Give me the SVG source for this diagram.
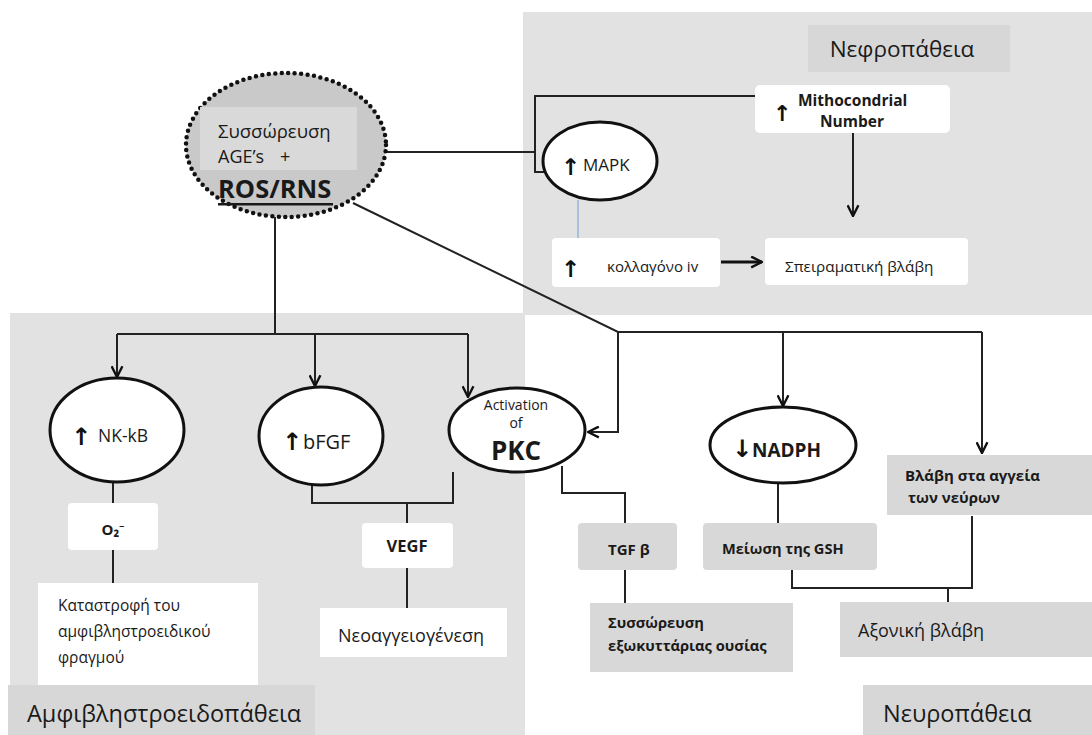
<svg xmlns="http://www.w3.org/2000/svg" width="1092" height="735" viewBox="0 0 1092 735">
<style>
.t{font-family:"Open Sans","Noto Sans","DejaVu Sans",sans-serif;fill:#1a1a1a}
.b{font-weight:bold}
.ar{font-family:"DejaVu Sans",sans-serif;fill:#111;font-weight:bold}
.ov{fill:#fff;stroke:#111;stroke-width:3}
.wb{fill:#fff}
.gb{fill:#d8d8d8}
.c{fill:none;stroke:#222;stroke-width:2}
</style>
<defs>
<marker id="ah" viewBox="0 0 12 12" refX="11" refY="6" markerWidth="13" markerHeight="13" markerUnits="userSpaceOnUse" orient="auto">
<path d="M1,1 L11,6 L1,11" fill="none" stroke="#111" stroke-width="2.2"/>
</marker>
</defs>
<rect width="1092" height="735" fill="#fff"/>
<rect x="523" y="12" width="569" height="303" fill="#e2e2e2"/>
<rect x="10" y="313" width="515" height="422" fill="#e2e2e2"/>
<g id="label-nefro"><rect x="808" y="25" width="202" height="47" fill="#d7d7d7"/><text class="t" x="902" y="57" font-size="22.5" text-anchor="middle">Νεφροπάθεια</text></g>
<g id="label-amfi"><rect x="8" y="685" width="307" height="50" fill="#d7d7d7"/><text class="t" x="27" y="722" font-size="23.5">Αμφιβληστροειδοπάθεια</text></g>
<g id="label-neuro"><rect x="863" y="685" width="229" height="50" fill="#d7d7d7"/><text class="t" x="883" y="722" font-size="23.5">Νευροπάθεια</text></g>

<g id="connectors">
<polyline class="c" points="387,152 535,152"/>
<polyline class="c" points="755,96 535,96 535,172 546,172"/>
<line x1="578" y1="200" x2="578" y2="238" stroke="#a8c2dc" stroke-width="2"/>
<line class="c" x1="853" y1="133" x2="853" y2="216" marker-end="url(#ah)"/>
<line x1="721" y1="262" x2="762" y2="262" stroke="#111" stroke-width="3" marker-end="url(#ah)"/>
<polyline class="c" points="353,203 618,332 982,332"/>
<polyline class="c" points="618,332 618,432 588,432" marker-end="url(#ah)"/>
<line class="c" x1="783" y1="332" x2="783" y2="406" marker-end="url(#ah)"/>
<line class="c" x1="982" y1="332" x2="982" y2="453" marker-end="url(#ah)"/>
<polyline class="c" points="275,217 275,334"/>
<polyline class="c" points="117,334 468,334"/>
<line class="c" x1="117" y1="334" x2="117" y2="377" marker-end="url(#ah)"/>
<line class="c" x1="315" y1="334" x2="315" y2="386" marker-end="url(#ah)"/>
<line class="c" x1="468" y1="334" x2="468" y2="397" marker-end="url(#ah)"/>
<line class="c" x1="113" y1="482" x2="113" y2="503"/>
<line class="c" x1="113" y1="550" x2="113" y2="583"/>
<polyline class="c" points="312,484 312,503 453,503 453,472"/>
<line class="c" x1="407" y1="503" x2="407" y2="523"/>
<line class="c" x1="407" y1="568" x2="407" y2="608"/>
<polyline class="c" points="562,466 562,493 625,493 625,523"/>
<line class="c" x1="625" y1="570" x2="625" y2="603"/>
<line class="c" x1="778" y1="483" x2="778" y2="523"/>
<polyline class="c" points="792,570 792,588 972,588 972,516"/>
<line class="c" x1="948" y1="588" x2="948" y2="602"/>
</g>

<g id="ros">
<ellipse cx="286" cy="145" rx="100" ry="72" fill="#c9c9c9" stroke="#111" stroke-width="4.5" stroke-dasharray="0 6.5" stroke-linecap="round"/>
<rect x="200" y="107" width="157" height="63" fill="#d9d9d9"/>
<text class="t" x="218" y="138" font-size="18.5">Συσσώρευση</text>
<text class="t" x="218" y="163" font-size="18">AGE’s</text>
<text class="t" x="280" y="163" font-size="18">+</text>
<text class="t b" x="218" y="198" font-size="25.5">ROS/RNS</text>
<rect x="218" y="203" width="115" height="2.5" fill="#1a1a1a"/>
</g>

<g id="mito">
<rect class="wb" x="755" y="85" width="195" height="48" rx="5"/>
<text class="ar" x="773" y="121" font-size="22">↑</text>
<text class="t b" x="798" y="106" font-size="15.5" fill="#333">Mithocondrial</text>
<text class="t b" x="852" y="127" font-size="15.5" fill="#333" text-anchor="middle">Number</text>
</g>
<g id="mapk">
<ellipse class="ov" cx="600" cy="161" rx="57" ry="39"/>
<text class="ar" x="561" y="175" font-size="23">↑</text>
<text class="t" x="583" y="171" font-size="17" fill="#555">MAPK</text>
</g>
<g id="kollagono">
<rect class="wb" x="552" y="238" width="168" height="49" rx="4"/>
<text class="ar" x="561" y="277" font-size="23">↑</text>
<text class="t" x="607" y="272" font-size="15">κολλαγόνο iv</text>
</g>
<g id="speir">
<rect class="wb" x="765" y="238" width="203" height="47" rx="4"/>
<text class="t" x="785" y="272" font-size="15.3">Σπειραματική βλάβη</text>
</g>

<g id="nkkb">
<ellipse class="ov" cx="117" cy="430" rx="67" ry="52"/>
<text class="ar" x="71" y="445" font-size="24">↑</text>
<text class="t" x="98" y="442" font-size="17.5" fill="#444">NK-kB</text>
</g>
<g id="bfgf">
<ellipse class="ov" cx="321" cy="436" rx="62" ry="49"/>
<text class="ar" x="282" y="450" font-size="24">↑</text>
<text class="t" x="303" y="449" font-size="20" fill="#333">bFGF</text>
</g>
<g id="pkc">
<ellipse class="ov" cx="517" cy="430" rx="68" ry="42"/>
<text class="t" x="516" y="410" font-size="14" fill="#666" text-anchor="middle">Activation</text>
<text class="t" x="516" y="428" font-size="14" fill="#666" text-anchor="middle">of</text>
<text class="t b" x="516" y="460" font-size="26" text-anchor="middle">PKC</text>
</g>
<g id="nadph">
<ellipse class="ov" cx="783" cy="445" rx="73" ry="38"/>
<text class="ar" x="732" y="457" font-size="24">↓</text>
<text class="t b" x="752" y="457" font-size="19">NADPH</text>
</g>

<g id="o2">
<rect class="wb" x="68" y="503" width="90" height="47" rx="4"/>
<text class="t b" x="113" y="535" font-size="15" text-anchor="middle">O₂⁻</text>
</g>
<g id="katastrofi">
<rect class="wb" x="38" y="583" width="220" height="102"/>
<text class="t" x="58" y="611" font-size="15.5">Καταστροφή του</text>
<text class="t" x="58" y="637" font-size="15.5">αμφιβληστροειδικού</text>
<text class="t" x="58" y="663" font-size="15.5">φραγμού</text>
</g>
<g id="vegf">
<rect class="wb" x="362" y="523" width="91" height="45" rx="4"/>
<text class="t b" x="407" y="552" font-size="16.5" text-anchor="middle">VEGF</text>
</g>
<g id="neoangeio">
<rect class="wb" x="320" y="608" width="187" height="49"/>
<text class="t" x="338" y="642" font-size="18">Νεοαγγειογένεση</text>
</g>
<g id="tgf">
<rect class="gb" x="578" y="523" width="99" height="47" rx="4"/>
<text class="t b" x="608" y="555" font-size="15">TGF β</text>
</g>
<g id="exokyt">
<rect class="gb" x="590" y="603" width="203" height="69"/>
<text class="t b" x="608" y="628" font-size="14.7">Συσσώρευση</text>
<text class="t b" x="608" y="651" font-size="14.7">εξωκυττάριας ουσίας</text>
</g>
<g id="gsh">
<rect class="gb" x="703" y="523" width="174" height="47" rx="4"/>
<text class="t b" x="722" y="554" font-size="14.6">Μείωση της GSH</text>
</g>
<g id="vlavi-aggeia">
<rect class="gb" x="887" y="455" width="205" height="60"/>
<text class="t b" x="905" y="481" font-size="15">Βλάβη στα αγγεία</text>
<text class="t b" x="908" y="503" font-size="15">των νεύρων</text>
</g>
<g id="axoniki">
<rect class="gb" x="840" y="602" width="252" height="55"/>
<text class="t" x="858" y="637" font-size="18">Αξονική βλάβη</text>
</g>
</svg>
